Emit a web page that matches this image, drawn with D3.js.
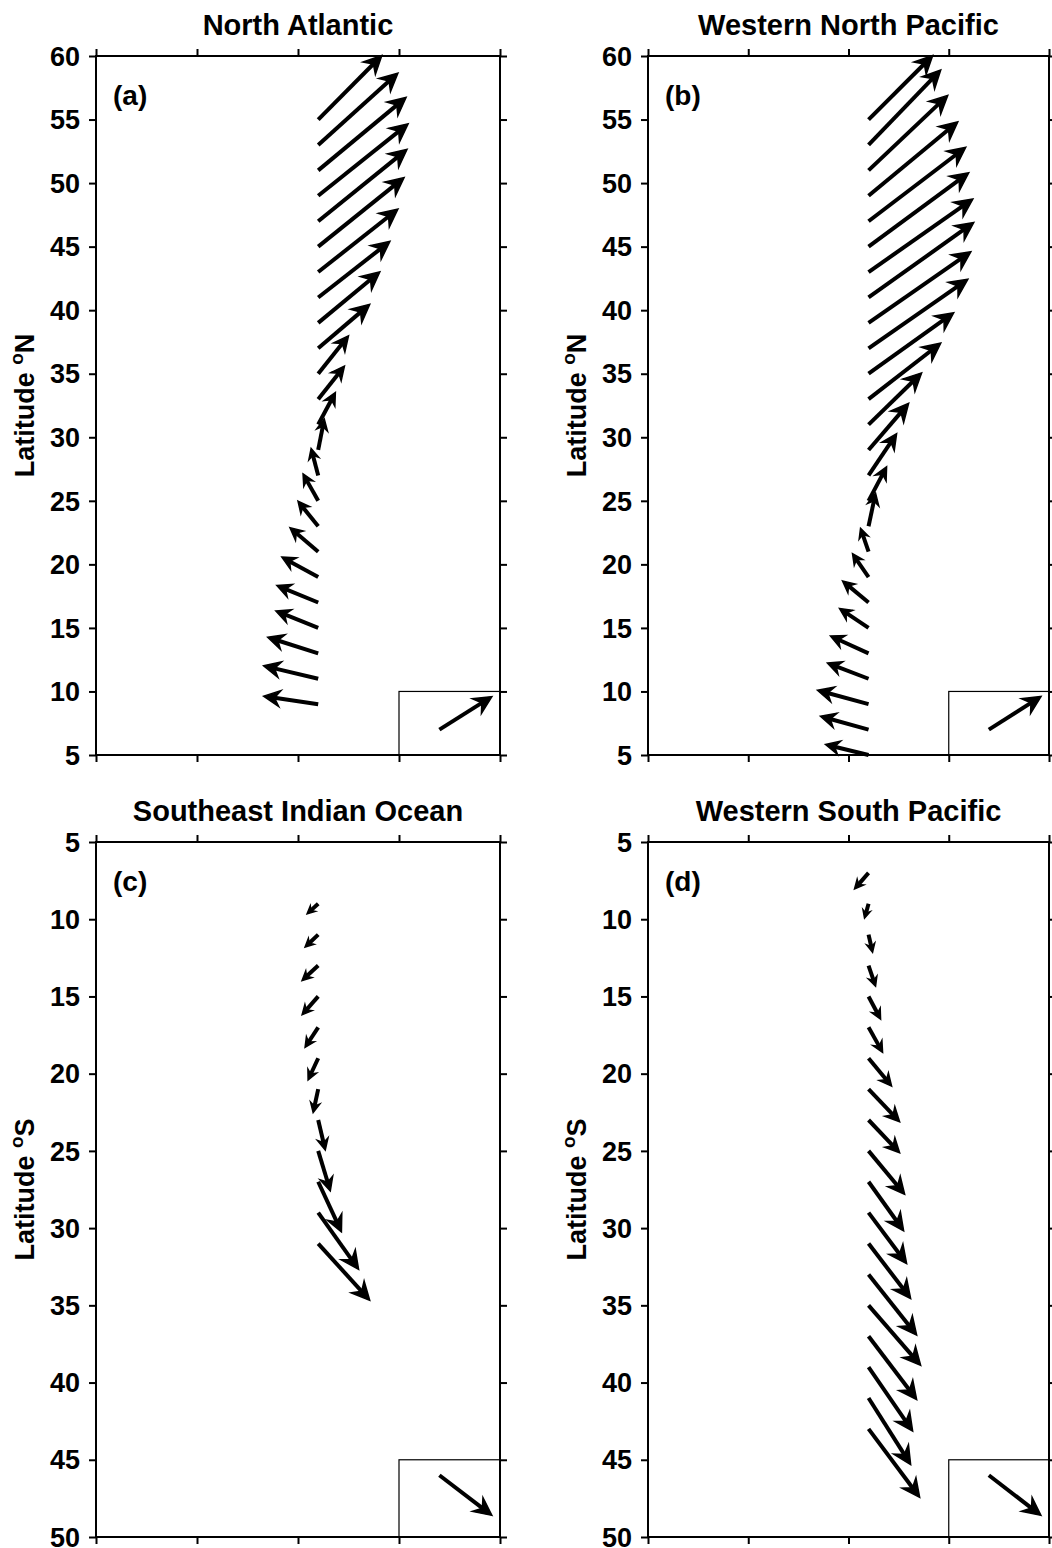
<!DOCTYPE html>
<html>
<head>
<meta charset="utf-8">
<script src="https://cdn.jsdelivr.net/npm/d3@7"></script>
<style>
  html, body { margin: 0; padding: 0; background: #fff; }
  svg { display: block; }
</style>
</head>
<body>
<svg id="chart" width="1052" height="1548"></svg>
<script>
// ---------------- DATA ----------------
// x axis: unlabeled, 4 intervals (0..4); arrows have tail at x = 2.2
const xTicks = [0, 1, 2, 3, 4];
const northLatTicks = [5, 10, 15, 20, 25, 30, 35, 40, 45, 50, 55, 60];
const southLatTicks = [5, 10, 15, 20, 25, 30, 35, 40, 45, 50];

const titles = ["North Atlantic", "Western North Pacific", "Southeast Indian Ocean", "Western South Pacific"];
const panelLabels = ["(a)", "(b)", "(c)", "(d)"];

// (a) North Atlantic: tail latitude, eastward (u) and poleward (v) components
const latA = [9, 11, 13, 15, 17, 19, 21, 23, 25, 27, 29, 31, 33, 35, 37, 39, 41, 43, 45, 47, 49, 51, 53, 55];
const uA = [-0.54, -0.54, -0.50, -0.42, -0.41, -0.36, -0.28, -0.20, -0.15, -0.07, 0.06, 0.17, 0.26, 0.30, 0.51, 0.61, 0.71, 0.79, 0.85, 0.88, 0.89, 0.87, 0.79, 0.63];
const vA = [0.63, 1.02, 1.26, 1.34, 1.34, 1.57, 1.89, 1.97, 2.12, 2.12, 2.44, 2.52, 2.60, 2.99, 3.46, 4.01, 4.41, 4.96, 5.43, 5.66, 5.66, 5.74, 5.66, 5.04];

// (b) Western North Pacific
const latB = [5, 7, 9, 11, 13, 15, 17, 19, 21, 23, 25, 27, 29, 31, 33, 35, 37, 39, 41, 43, 45, 47, 49, 51, 53, 55];
const uB = [-0.43, -0.48, -0.51, -0.41, -0.38, -0.29, -0.26, -0.16, -0.08, 0.07, 0.18, 0.28, 0.40, 0.53, 0.72, 0.85, 0.99, 1.02, 1.05, 1.04, 1.00, 0.97, 0.89, 0.79, 0.72, 0.64];
const vB = [0.83, 1.05, 1.10, 1.23, 1.36, 1.53, 1.70, 1.84, 1.84, 2.60, 2.68, 3.28, 3.67, 4.07, 4.41, 4.80, 5.43, 5.59, 5.90, 5.74, 5.82, 5.82, 5.82, 5.90, 5.90, 5.04];

// (c) Southeast Indian Ocean (v positive = poleward = southward)
const latC = [9, 11, 13, 15, 17, 19, 21, 23, 25, 27, 29, 31];
const uC = [-0.11, -0.13, -0.16, -0.16, -0.13, -0.10, -0.05, 0.07, 0.12, 0.23, 0.40, 0.51];
const vC = [0.65, 0.80, 0.97, 1.19, 1.30, 1.40, 1.52, 1.94, 2.59, 3.24, 3.67, 3.67];

// (d) Western South Pacific (v positive = poleward = southward)
const latD = [7, 9, 11, 13, 15, 17, 19, 21, 23, 25, 27, 29, 31, 33, 35, 37, 39, 41, 43];
const uD = [-0.14, -0.04, 0.04, 0.07, 0.12, 0.14, 0.23, 0.31, 0.31, 0.36, 0.35, 0.38, 0.42, 0.48, 0.52, 0.48, 0.44, 0.42, 0.51];
const vD = [1.04, 0.93, 1.14, 1.34, 1.47, 1.62, 1.81, 2.11, 2.12, 2.81, 3.17, 3.30, 3.56, 3.93, 3.89, 4.10, 4.15, 4.31, 4.43];

const tailX = 2.2;
// reference (scale) vector shown in the inset box
const refTailX = 3.4;
const refU = 0.52, refV = 2.6;
const refLatN = 7, refLatS = 46;
const insetBoxN = [5, 10], insetBoxS = [45, 50];

// ---------------- LAYOUT ----------------
const FONT = "'Liberation Sans', Arial, Helvetica, sans-serif";
const svg = d3.select("#chart");

const panels = [
  {title: titles[0], label: panelLabels[0], lat: latA, u: uA, v: vA, north: true,  left: 96,  right: 500,  top: 56,  bottom: 755},
  {title: titles[1], label: panelLabels[1], lat: latB, u: uB, v: vB, north: true,  left: 648, right: 1049, top: 56,  bottom: 755},
  {title: titles[2], label: panelLabels[2], lat: latC, u: uC, v: vC, north: false, left: 96,  right: 500,  top: 842, bottom: 1537},
  {title: titles[3], label: panelLabels[3], lat: latD, u: uD, v: vD, north: false, left: 648, right: 1049, top: 842, bottom: 1537}
];

function arrowPath(x1, y1, x2, y2) {
  const dx = x2 - x1, dy = y2 - y1;
  const len = Math.hypot(dx, dy);
  const ux = dx / len, uy = dy / len;
  const h = Math.min(20, 5 + 0.24 * len);
  const a = 26 * Math.PI / 180;
  const ang = Math.atan2(dy, dx);
  const b1 = [x2 - h * Math.cos(ang - a), y2 - h * Math.sin(ang - a)];
  const b2 = [x2 - h * Math.cos(ang + a), y2 - h * Math.sin(ang + a)];
  const n = [x2 - 0.6 * h * ux, y2 - 0.6 * h * uy];
  return {
    shaft: `M${x1},${y1}L${n[0]},${n[1]}`,
    head: `M${x2},${y2}L${b1[0]},${b1[1]}L${n[0]},${n[1]}L${b2[0]},${b2[1]}Z`
  };
}

function drawArrow(g, x1, y1, x2, y2) {
  const p = arrowPath(x1, y1, x2, y2);
  g.append("path").attr("d", p.shaft)
    .attr("stroke", "#000").attr("stroke-width", 4).attr("fill", "none")
    .attr("stroke-linecap", "butt");
  g.append("path").attr("d", p.head)
    .attr("fill", "#000").attr("stroke", "#000").attr("stroke-width", 1.5)
    .attr("stroke-linejoin", "miter");
}

panels.forEach(P => {
  const x = d3.scaleLinear().domain([0, 4]).range([P.left, P.right]);
  const y = P.north
    ? d3.scaleLinear().domain([60, 5]).range([P.top, P.bottom])
    : d3.scaleLinear().domain([5, 50]).range([P.top, P.bottom]);
  const ticks = P.north ? northLatTicks : southLatTicks;

  const g = svg.append("g");

  // inset box
  const box = P.north ? insetBoxN : insetBoxS;
  g.append("rect")
    .attr("x", x(3)).attr("y", Math.min(y(box[0]), y(box[1])))
    .attr("width", x(4) - x(3))
    .attr("height", Math.abs(y(box[1]) - y(box[0])))
    .attr("fill", "none").attr("stroke", "#000").attr("stroke-width", 1.2);

  // axes
  const left = g.append("g").attr("transform", `translate(${P.left},0)`)
    .call(d3.axisLeft(y).tickValues(ticks).tickSize(7).tickSizeOuter(0).tickPadding(9).tickFormat(d3.format("d")));
  const right = g.append("g").attr("transform", `translate(${P.right},0)`)
    .call(d3.axisRight(y).tickValues(ticks).tickSize(7).tickSizeOuter(0).tickFormat(""));
  const top = g.append("g").attr("transform", `translate(0,${P.top})`)
    .call(d3.axisTop(x).tickValues(xTicks).tickSize(7).tickSizeOuter(0).tickFormat(""));
  const bottom = g.append("g").attr("transform", `translate(0,${P.bottom})`)
    .call(d3.axisBottom(x).tickValues(xTicks).tickSize(7).tickSizeOuter(0).tickFormat(""));
  [left, right, top, bottom].forEach(ax => {
    ax.select(".domain").remove();
    ax.selectAll(".tick line").attr("stroke", "#000").attr("stroke-width", 2);
  });
  left.selectAll(".tick text")
    .attr("font-family", FONT).attr("font-weight", "bold").attr("font-size", 27)
    .attr("fill", "#000").attr("dy", "0.34em");

  // frame
  g.append("rect")
    .attr("x", P.left).attr("y", P.top)
    .attr("width", P.right - P.left).attr("height", P.bottom - P.top)
    .attr("fill", "none").attr("stroke", "#000").attr("stroke-width", 2);

  // title
  g.append("text")
    .attr("x", (P.left + P.right) / 2).attr("y", P.top - 21)
    .attr("text-anchor", "middle")
    .attr("font-family", FONT).attr("font-weight", "bold").attr("font-size", 29)
    .text(P.title);

  // panel label
  g.append("text")
    .attr("x", P.left + 17).attr("y", P.top + 49)
    .attr("font-family", FONT).attr("font-weight", "bold").attr("font-size", 28)
    .text(P.label);

  // y axis title
  const yt = g.append("text")
    .attr("transform", `translate(${P.left - 62},${(P.top + P.bottom) / 2}) rotate(-90)`)
    .attr("text-anchor", "middle")
    .attr("font-family", FONT).attr("font-weight", "bold").attr("font-size", 27);
  yt.append("tspan").text("Latitude ");
  yt.append("tspan").attr("font-size", 19).attr("dy", "-0.6em").text("o");
  yt.append("tspan").attr("dy", "0.42em").text(P.north ? "N" : "S");

  // arrows (v is the poleward component: larger latitude value in both hemispheres)
  const ag = g.append("g");
  P.lat.forEach((lat, i) => {
    const x1 = x(tailX), y1 = y(lat);
    const x2 = x(tailX + P.u[i]), y2 = y(lat + P.v[i]);
    drawArrow(ag, x1, y1, x2, y2);
  });

  // reference arrow
  const rl = P.north ? refLatN : refLatS;
  drawArrow(ag, x(refTailX), y(rl), x(refTailX + refU), y(rl + refV));
});
</script>
</body>
</html>
